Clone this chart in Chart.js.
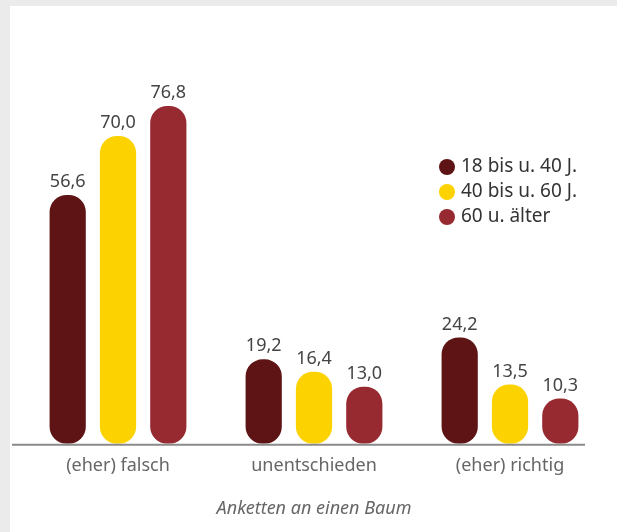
<!DOCTYPE html>
<html>
<head>
<meta charset="utf-8">
<script src="https://cdn.jsdelivr.net/npm/chart.js@4.4.0/dist/chart.umd.min.js"></script>
<style>
  html, body { margin: 0; padding: 0; background: #ebebeb; }
  #panel { position: absolute; left: 10px; top: 6px; width: 607px; height: 526px; background: #fff; }
  #chartCanvas { display: block; }
</style>
</head>
<body>
<div id="panel"><canvas id="chartCanvas" width="607" height="526"></canvas></div>
<script>
const categories = ["(eher) falsch", "unentschieden", "(eher) richtig"];
const seriesNames = ["18 bis u. 40 J.", "40 bis u. 60 J.", "60 u. älter"];
const young = [56.6, 19.2, 24.2];
const middle = [70.0, 16.4, 13.5];
const old = [76.8, 13.0, 10.3];
const colors = ["#5e1414", "#fcd200", "#962a30"];
const axisTitle = "Anketten an einen Baum";

const fontFamily = "'Noto Sans', sans-serif";

// value labels above each bar, German decimal comma
const valueLabels = {
  id: "valueLabels",
  afterDatasetsDraw(chart) {
    const ctx = chart.ctx;
    ctx.save();
    ctx.font = "18px " + fontFamily;
    ctx.fillStyle = "#444";
    ctx.textAlign = "center";
    ctx.textBaseline = "bottom";
    chart.data.datasets.forEach((ds, i) => {
      chart.getDatasetMeta(i).data.forEach((bar, j) => {
        ctx.fillText(ds.data[j].toFixed(1).replace(".", ","), bar.x, bar.y - 4);
      });
    });
    ctx.restore();
  },
};

// baseline and legend
const extras = {
  id: "extras",
  afterDraw(chart) {
    const ctx = chart.ctx;
    const y0 = chart.scales.y.getPixelForValue(0);
    ctx.save();
    ctx.strokeStyle = "#8a8a8a";
    ctx.lineWidth = 2;
    ctx.beginPath();
    ctx.moveTo(2, y0 + 1);
    ctx.lineTo(575, y0 + 1);
    ctx.stroke();

    ctx.font = "19px " + fontFamily;
    ctx.textBaseline = "middle";
    ctx.textAlign = "left";
    chart.data.datasets.forEach((ds, i) => {
      const y = 161 + i * 25;
      ctx.fillStyle = ds.backgroundColor;
      ctx.beginPath();
      ctx.arc(437, y, 8, 0, Math.PI * 2);
      ctx.fill();
      ctx.fillStyle = "#333";
      ctx.fillText(ds.label, 451, y);
    });
    ctx.restore();
  },
};

document.addEventListener("DOMContentLoaded", () => {
  const ctx = document.getElementById("chartCanvas").getContext("2d");
  new Chart(ctx, {
    type: "bar",
    data: {
      labels: categories,
      datasets: [young, middle, old].map((vals, i) => ({
        label: seriesNames[i],
        data: vals,
        backgroundColor: colors[i],
        borderRadius: 17,
        borderSkipped: false,
        barPercentage: 0.72,
        categoryPercentage: 0.77,
      })),
    },
    options: {
      responsive: false,
      animation: false,
      layout: { padding: { top: 86, left: 10, right: 9, bottom: 12 } },
      plugins: {
        legend: { display: false },
        tooltip: { enabled: false },
      },
      scales: {
        x: {
          grid: { display: false },
          border: { display: false },
          ticks: { color: "#666", font: { family: fontFamily, size: 18 }, padding: 3 },
          title: {
            display: true,
            text: axisTitle,
            color: "#666",
            font: { family: fontFamily, size: 18, style: "italic" },
            padding: { top: 19, bottom: 0 },
          },
        },
        y: { display: false, min: 0, max: 80 },
      },
    },
    plugins: [valueLabels, extras],
  });
});
</script>
</body>
</html>
